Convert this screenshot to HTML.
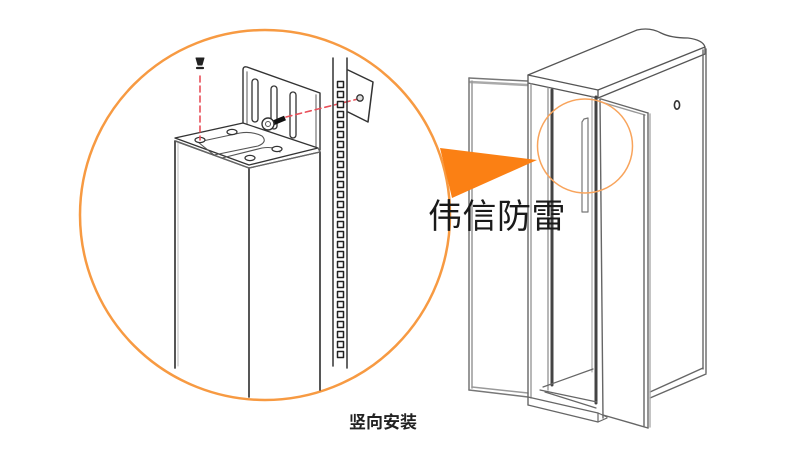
<!DOCTYPE html>
<html><head><meta charset="utf-8">
<style>
html,body{margin:0;padding:0;background:#fff;}
body{width:790px;height:450px;overflow:hidden;position:relative;}
svg{position:absolute;left:0;top:0;}
.t1{position:absolute;left:428px;top:196px;font-family:"Liberation Sans","Noto Sans CJK SC",sans-serif;font-size:34px;color:#1a1a1a;letter-spacing:0.5px;line-height:42px;white-space:nowrap;}
.t2{position:absolute;left:349px;top:412px;font-family:"Liberation Sans","Noto Sans CJK SC",sans-serif;font-size:17px;font-weight:bold;color:#222;line-height:22px;white-space:nowrap;}
</style></head><body>
<svg width="790" height="450" viewBox="0 0 790 450" xmlns="http://www.w3.org/2000/svg">
<g fill="none" stroke-linejoin="round" stroke-linecap="round">
<!-- ===== Cabinet ===== -->
<g stroke="#777" stroke-width="1.5">
<path d="M469,78 L527,81"/><path d="M470,82 L527,85" stroke="#aaa" stroke-width="2.5"/>
<path d="M469,78 L469,390"/><path d="M472,81 L472,388" stroke="#999"/>
<path d="M469,390 L528,397"/><path d="M472,387 L528,393" stroke="#999"/>
</g>
<g stroke="#555" stroke-width="1.3">
<path d="M528,75 L637,30 Q650,27 661,33 Q671,38 688,38 Q703,40 705,47 L598,90 Z" fill="#fff"/>
<path d="M528,75 L528,83 L598,98 L705,54 L705,47"/>
<path d="M598,90 L598,98"/>
</g>
<g stroke="#666" stroke-width="1.4">
<path d="M703,50 L703,369"/><path d="M706,49 L706,373"/>
<path d="M650,392 L703,368"/><path d="M650,398 L706,374"/>
</g>
<ellipse cx="677" cy="105" rx="2.6" ry="4.2" stroke="#333" stroke-width="1.6"/>
<g stroke="#666" stroke-width="1.4">
<path d="M528,83 L528,405"/><path d="M531,84 L531,398" stroke="#999"/>
<path d="M548,88 L548,390" stroke="#999"/>
</g>
<path d="M552,90 L552,385" stroke="#444" stroke-width="3"/>
<path d="M596,97 L596,403" stroke="#444" stroke-width="3"/>
<path d="M592,96 L592,372" stroke="#999" stroke-width="1"/>
<path d="M582,122 L582,212 L588,212 L588,118 L584,119 Z" stroke="#777" stroke-width="1.2" fill="#fff"/>
<g stroke="#666" stroke-width="1.2">
<path d="M543,387 L593,369"/>
<path d="M540,390 L597,402"/>
<path d="M528,397 L598,413 L607,417"/>
<path d="M528,405 L598,422 L607,418"/>
<path d="M598,413 L598,422"/>
<path d="M545,392 L596,408"/>
</g>
<g stroke="#666" stroke-width="1.4">
<path d="M601,99 L648,113"/><path d="M601,102 L645,115" stroke="#999"/>
<path d="M600,99 L603,418"/>
<path d="M644,115 L644,426"/><path d="M648,113 L648,428"/><path d="M650,114 L650,427" stroke="#aaa"/>
<path d="M603,415 L648,428"/>
</g>
<ellipse cx="585" cy="146" rx="47.5" ry="47" stroke="#f8a45c" stroke-width="1.5"/>

<!-- ===== Big circle ===== -->
<circle cx="265" cy="215" r="185" stroke="#f79a42" stroke-width="2.5" fill="none"/>
<path d="M440,148 L537,160 L452,198 Z" fill="#fb8014" stroke="none"/>

<g stroke="#444" stroke-width="1.8">
<path d="M175,141 L175,368"/>
<path d="M249,168 L249,397"/>
<path d="M320,152 L320,390"/>
<path d="M175,141 L249,168 L320,152" stroke-width="1.3"/>
</g>
<path d="M178,143 L178,366" stroke="#bbb" stroke-width="1"/>
<g stroke="#333" stroke-width="1.4">
<path d="M243,123 L243,70 Q243,66 247,67 L320,93 L320,150"/>
<path d="M247,125 L247,72" stroke="#888"/>
<path d="M316,95 L316,148" stroke="#888"/>
</g>
<g stroke="#333" stroke-width="1.3">
<rect x="252" y="79" width="6" height="43" rx="3"/>
<rect x="271" y="86" width="6" height="43" rx="3"/>
<rect x="290" y="92" width="6" height="46" rx="3"/>
</g>
<g stroke="#333" stroke-width="1.3">
<path d="M175,138 L243,123 L318,148 L249,165 Z" fill="#fff"/>
<path d="M176,141 L249,168 L320,152 L318,148" stroke="#666"/>
<path d="M198,142 L240,133 Q252,131 262,136 Q268,142 258,146 L214,155 Z" stroke="#555" stroke-width="1.1"/>
<path d="M222,158 L262,148 Q275,146 280,152" stroke="#555" stroke-width="1.1"/>
</g>
<g stroke="#333" stroke-width="1.2" fill="#fff">
<ellipse cx="200" cy="140" rx="5" ry="2.6"/>
<ellipse cx="232" cy="132" rx="5" ry="2.6"/>
<ellipse cx="277" cy="149" rx="5" ry="2.6"/>
<ellipse cx="250" cy="158" rx="5" ry="2.6"/>
</g>
<path d="M200,76 L200,140" stroke="#e8505a" stroke-width="1.6" stroke-dasharray="6,4"/>
<path d="M286,117 L362,98" stroke="#e8505a" stroke-width="1.6" stroke-dasharray="6,4"/>
<path d="M196,58 L204,58 L202,65 L198,65 Z" fill="#222" stroke="#222" stroke-width="1"/>
<path d="M197,68 L203,68" stroke="#222" stroke-width="2.2"/>
<path d="M273,123 L285,118" stroke="#111" stroke-width="5" stroke-linecap="butt"/>
<circle cx="268" cy="124" r="6" fill="#fff" stroke="#333" stroke-width="1.4"/>
<circle cx="268" cy="124" r="2.5" stroke="#555" stroke-width="1"/>
<g stroke="#333" stroke-width="1.5">
<path d="M333,58 L333,366"/>
<path d="M347,58 L347,368"/>
<path d="M348,70 L373,82 L368,122 L348,112"/>
</g>
<circle cx="360" cy="98" r="3.2" stroke="#333" stroke-width="1.3" fill="#ddd"/>
<g stroke="#222" stroke-width="1.5" fill="#fff">
<rect x="337.5" y="81.5" width="6" height="6"/>
<rect x="337.5" y="91.5" width="6" height="6"/>
<rect x="337.5" y="101.5" width="6" height="6"/>
<rect x="337.5" y="111.5" width="6" height="6"/>
<rect x="337.5" y="121.5" width="6" height="6"/>
<rect x="337.5" y="131.5" width="6" height="6"/>
<rect x="337.5" y="141.5" width="6" height="6"/>
<rect x="337.5" y="151.5" width="6" height="6"/>
<rect x="337.5" y="161.5" width="6" height="6"/>
<rect x="337.5" y="171.5" width="6" height="6"/>
<rect x="337.5" y="181.5" width="6" height="6"/>
<rect x="337.5" y="191.5" width="6" height="6"/>
<rect x="337.5" y="201.5" width="6" height="6"/>
<rect x="337.5" y="211.5" width="6" height="6"/>
<rect x="337.5" y="221.5" width="6" height="6"/>
<rect x="337.5" y="231.5" width="6" height="6"/>
<rect x="337.5" y="241.5" width="6" height="6"/>
<rect x="337.5" y="251.5" width="6" height="6"/>
<rect x="337.5" y="261.5" width="6" height="6"/>
<rect x="337.5" y="271.5" width="6" height="6"/>
<rect x="337.5" y="281.5" width="6" height="6"/>
<rect x="337.5" y="291.5" width="6" height="6"/>
<rect x="337.5" y="301.5" width="6" height="6"/>
<rect x="337.5" y="311.5" width="6" height="6"/>
<rect x="337.5" y="321.5" width="6" height="6"/>
<rect x="337.5" y="331.5" width="6" height="6"/>
<rect x="337.5" y="341.5" width="6" height="6"/>
<rect x="337.5" y="351.5" width="6" height="6"/>
</g>
</g>
</svg>
<div class="t1">伟信防雷</div>
<div class="t2">竖向安装</div>
</body></html>
